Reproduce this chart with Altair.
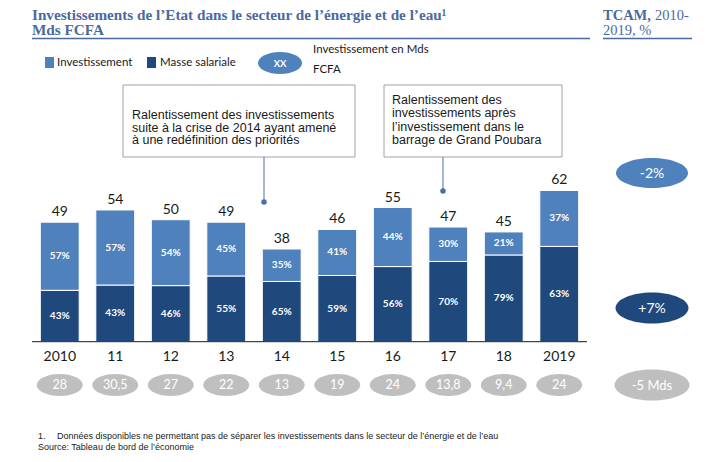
import altair as alt
import pandas as pd

# ---------------- data ----------------
years = ["2010", "11", "12", "13", "14", "15", "16", "17", "18", "2019"]
totals = [49, 54, 50, 49, 38, 46, 55, 47, 45, 62]
pct_invest = [57, 57, 54, 45, 35, 41, 44, 30, 21, 37]
pct_masse = [43, 43, 46, 55, 65, 59, 56, 70, 79, 63]
invest_mds = [28, 30.5, 27, 22, 13, 19, 24, 13.8, 9.4, 24]
tcam_invest = "-2%"
tcam_masse = "+7%"
tcam_mds = "-5 Mds"

title_1 = "Investissements de l\u2019Etat dans le secteur de l\u2019\u00e9nergie et de l\u2019eau\u00b9"
title_2 = "Mds FCFA"
note_1 = ["Ralentissement des investissements",
          "suite \u00e0 la crise de 2014 ayant amen\u00e9",
          "\u00e0 une red\u00e9finition des priorit\u00e9s"]
note_2 = ["Ralentissement des",
          "investissements apr\u00e8s",
          "l\u2019investissement dans le",
          "barrage de Grand Poubara"]
footnote = "Donn\u00e9es disponibles ne permettant pas de s\u00e9parer les investissements dans le secteur de l\u2019\u00e9nergie et de l\u2019eau"
source = "Source: Tableau de bord de l\u2019\u00e9conomie"

LIGHT = "#4f81bd"
DARK = "#1f497d"
GREY = "#bfbfbf"
TITLE = "#4a6a9f"
SANS = "Lato"


def fmt(v):
    return f"{v:g}".replace(".", ",")


def ell(r):
    k = 0.5523
    return (f"M -1 0 C -1 {-r*k:.4f} {-k} {-r} 0 {-r} C {k} {-r} 1 {-r*k:.4f} 1 0 "
            f"C 1 {r*k:.4f} {k} {r} 0 {r} C {-k} {r} -1 {r*k:.4f} -1 0 Z")


rows = []
for y, t, pi, pm in zip(years, totals, pct_invest, pct_masse):
    mhi = t * pm / 100
    rows.append(dict(year=y, serie="Masse salariale", lo=0, hi=mhi, mid=mhi / 2, pct=f"{pm}%"))
    rows.append(dict(year=y, serie="Investissement", lo=mhi, hi=t, mid=(mhi + t) / 2, pct=f"{pi}%"))
seg = pd.DataFrame(rows)
tot = pd.DataFrame(dict(year=years, total=totals))
inv = pd.DataFrame(dict(year=years, label=[fmt(v) for v in invest_mds]))
one = pd.DataFrame({"k": [0]})

xs = alt.Scale(domain=years, range=[24, 579], paddingInner=0.3, paddingOuter=0.15)
ys = alt.Scale(domain=[0, 136.8], range=[333.7, 0], nice=False, zero=False)
X = alt.X("year:N", scale=xs, axis=None)

bars = alt.Chart(seg).mark_bar(stroke="white", strokeWidth=1).encode(
    x=X,
    y=alt.Y("lo:Q", scale=ys, axis=None),
    y2="hi:Q",
    color=alt.Color("serie:N", scale=alt.Scale(domain=["Investissement", "Masse salariale"],
                                                range=[LIGHT, DARK]), legend=None),
)
pct_text = alt.Chart(seg).mark_text(color="white", font=SANS, fontWeight="bold", fontSize=10).encode(
    x=X, y=alt.Y("mid:Q", scale=ys, axis=None), text="pct:N")
tot_text = alt.Chart(tot).mark_text(color="#1a1a1a", font=SANS, fontSize=14, dy=-10).encode(
    x=X, y=alt.Y("total:Q", scale=ys, axis=None), text="total:Q")
year_text = alt.Chart(tot).mark_text(color="#1a1a1a", font=SANS, fontSize=14).encode(
    x=X, y=alt.value(348.7), text="year:N")
baseline = alt.Chart(one).mark_rule(color="#1a1a1a", strokeWidth=1).encode(
    x=alt.value(24), x2=alt.value(579), y=alt.value(333.7))

inv_ell = alt.Chart(inv).mark_point(shape=ell(0.478), filled=True, size=46 ** 2, color=GREY,
                                    opacity=1, strokeWidth=0).encode(x=X, y=alt.value(377))
inv_text = alt.Chart(inv).mark_text(color="white", font=SANS, fontSize=12.5).encode(
    x=X, y=alt.value(377), text="label:N")


def deco_ellipse(cx, cy, w, h, color):
    return alt.Chart(one).mark_point(shape=ell(h / w), filled=True, size=w ** 2, color=color,
                                     opacity=1, strokeWidth=0).encode(x=alt.value(cx), y=alt.value(cy))


def txt(s, x, y, **kw):
    return alt.Chart(one).mark_text(**kw).encode(x=alt.value(x), y=alt.value(y), text=alt.value(s))


def rule(x1, x2, y1, y2, color, w=1):
    return alt.Chart(one).mark_rule(color=color, strokeWidth=w).encode(
        x=alt.value(x1), x2=alt.value(x2), y=alt.value(y1), y2=alt.value(y2))


def box(x1, x2, y1, y2):
    return alt.Chart(one).mark_rect(fill="white", stroke="#8c8c8c", strokeWidth=0.8).encode(
        x=alt.value(x1), x2=alt.value(x2), y=alt.value(y1), y2=alt.value(y2))


layers = [
    # header
    txt(title_1, 24, 11.5, align="left", baseline="alphabetic", font="Liberation Serif",
        fontWeight="bold", fontSize=15.2, color=TITLE),
    txt(title_2, 24, 27, align="left", baseline="alphabetic", font="Liberation Serif",
        fontWeight="bold", fontSize=15.2, color=TITLE),
    rule(24, 582, 30.5, 30.5, TITLE, 1.3),
    txt("TCAM,", 595, 11.5, align="left", baseline="alphabetic", font="Liberation Serif",
        fontWeight="bold", fontSize=14.5, color=TITLE),
    txt("2010-", 647, 11.5, align="left", baseline="alphabetic", font="Liberation Serif",
        fontSize=14.5, color=TITLE),
    txt("2019, %", 595, 27, align="left", baseline="alphabetic", font="Liberation Serif",
        fontSize=14.5, color=TITLE),
    rule(595, 684, 30.5, 30.5, TITLE, 1.3),
    # legend
    alt.Chart(one).mark_rect(color=LIGHT).encode(x=alt.value(37), x2=alt.value(46),
                                                  y=alt.value(49), y2=alt.value(60)),
    txt("Investissement", 49, 54.5, align="left", baseline="middle", font=SANS, fontSize=11.5,
        color="#1a1a1a"),
    alt.Chart(one).mark_rect(color=DARK).encode(x=alt.value(139), x2=alt.value(148),
                                                 y=alt.value(49), y2=alt.value(60)),
    txt("Masse salariale", 152, 54.5, align="left", baseline="middle", font=SANS, fontSize=11.5,
        color="#1a1a1a"),
    deco_ellipse(272, 55, 44, 22, LIGHT),
    txt("XX", 272, 56, align="center", baseline="middle", font=SANS, fontWeight="bold",
        fontSize=9.5, color="white"),
    txt(["Investissement en Mds", "FCFA"], 305, 42, align="left", baseline="middle", font=SANS,
        fontSize=11.5, lineHeight=20, color="#1a1a1a"),
    # annotation boxes
    rule(256, 256, 149, 194, "#4a6fa5", 1),
    alt.Chart(one).mark_point(filled=True, size=30, color="#4a6fa5", opacity=1).encode(
        x=alt.value(256), y=alt.value(194)),
    rule(435, 435, 149, 183, "#4a6fa5", 1),
    alt.Chart(one).mark_point(filled=True, size=30, color="#4a6fa5", opacity=1).encode(
        x=alt.value(435), y=alt.value(183)),
    box(115, 347, 77, 149),
    txt(note_1, 124, 107, align="left", baseline="middle", font="Liberation Sans",
        fontSize=12.5, lineHeight=12.6, color="#1a1a1a"),
    box(376, 554, 77, 149),
    txt(note_2, 384, 92, align="left", baseline="middle", font="Liberation Sans",
        fontSize=12.5, lineHeight=13.3, color="#1a1a1a"),
    # bars
    bars, pct_text, tot_text, baseline, year_text, inv_ell, inv_text,
    # TCAM ellipses
    deco_ellipse(644, 165, 72, 30, LIGHT),
    txt(tcam_invest, 644, 165.5, align="center", baseline="middle", font=SANS, fontSize=14,
        color="white"),
    deco_ellipse(644, 300, 73, 31, DARK),
    txt(tcam_masse, 644, 300.5, align="center", baseline="middle", font=SANS, fontSize=14,
        color="white"),
    deco_ellipse(644, 377, 75, 31, GREY),
    txt(tcam_mds, 644, 377.5, align="center", baseline="middle", font=SANS, fontSize=13,
        color="white"),
    # footnotes
    txt("1.", 30, 427.7, align="left", baseline="middle", font="Liberation Sans", fontSize=9,
        color="#1a1a1a"),
    txt(footnote, 49, 427.7, align="left", baseline="middle", font="Liberation Sans", fontSize=9,
        color="#1a1a1a"),
    txt(source, 30, 439.3, align="left", baseline="middle", font="Liberation Sans", fontSize=9,
        color="#1a1a1a"),
]

chart = alt.layer(*layers).properties(
    width=702, height=446, padding=0, autosize=alt.AutoSizeParams(type="none")
).configure_view(strokeWidth=0)

chart.save("out.html", embed_options={"renderer": "svg", "actions": False})
